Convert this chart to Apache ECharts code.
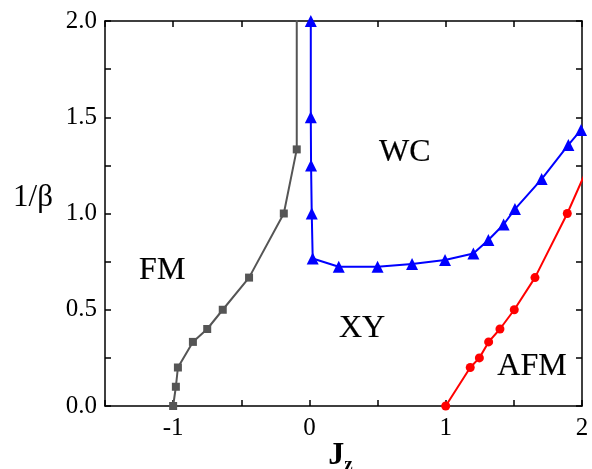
<!DOCTYPE html>
<html>
<head>
<meta charset="utf-8">
<script src="https://cdn.jsdelivr.net/npm/echarts@6/dist/echarts.min.js"></script>
<style>
html,body{margin:0;padding:0;background:#fff;}
#c{width:592px;height:469px;}
</style>
</head>
<body>
<div id="c"></div>
<script>
// FM boundary (gray squares)
var fmX = [-1.0, -0.98, -0.965, -0.855, -0.75, -0.636, -0.443, -0.188, -0.093, -0.093];
var fmY = [0, 0.1, 0.2, 0.333, 0.4, 0.5, 0.667, 1.0, 1.333, 2.3];
// WC boundary (blue triangles)
var wcX = [0.01, 0.01, 0.012, 0.017, 0.024, 0.215, 0.50, 0.753, 0.995, 1.203, 1.313, 1.425, 1.508, 1.704, 1.90, 1.993];
var wcY = [2.0, 1.5, 1.25, 1.0, 0.766, 0.723, 0.723, 0.738, 0.758, 0.792, 0.862, 0.943, 1.023, 1.179, 1.356, 1.434];
// AFM boundary (red circles)
var afmX = [1.0, 1.18, 1.247, 1.315, 1.398, 1.503, 1.655, 1.892, 2.1];
var afmY = [0, 0.2, 0.25, 0.333, 0.4, 0.5, 0.667, 1.0, 1.333];
// region labels
var regionNames = ['WC', 'FM', 'XY', 'AFM'];
var regionX = [0.70, -1.08, 0.386, 1.633];
var regionY = [1.314, 0.706, 0.404, 0.207];
// ticks
var xTickLabels = [-1, 0, 1, 2];
var yTickLabels = [0.0, 0.5, 1.0, 1.5, 2.0];

function zip(a, b) { return a.map(function (v, i) { return [v, b[i]]; }); }

var FONT = 'Liberation Serif';
var axisLineStyle = { show: true, onZero: false, lineStyle: { color: '#000', width: 1.5 } };
var tickStyle = { show: true, inside: true, length: 6, lineStyle: { color: '#000', width: 1.5 } };

var chart = echarts.init(document.getElementById('c'), null, { renderer: 'canvas' });
chart.setOption({
  animation: false,
  backgroundColor: '#fff',
  grid: { left: 105, right: 10, top: 21, bottom: 63, containLabel: false, outerBoundsMode: 'none' },
  xAxis: [{
    type: 'value', position: 'bottom', min: -1.5, max: 2, interval: 0.5,
    axisLine: axisLineStyle, axisTick: tickStyle, splitLine: { show: false },
    axisLabel: {
      margin: 10, color: '#000', fontFamily: FONT, fontSize: 25,
      formatter: function (v) { return xTickLabels.indexOf(v) >= 0 ? String(v) : ''; }
    },
    name: '{j|J}{z|z}', nameLocation: 'middle', nameGap: 30, nameMoveOverlap: false,
    nameTextStyle: {
      rich: {
        j: { fontFamily: FONT, fontSize: 32, fontWeight: 'bold', color: '#000' },
        z: { fontFamily: FONT, fontSize: 19, fontWeight: 'bold', color: '#000', padding: [20, 6, 0, 0] }
      }
    }
  }, {
    type: 'value', position: 'top', min: -1.5, max: 2, interval: 0.5,
    axisLine: axisLineStyle, axisTick: tickStyle, axisLabel: { show: false }, splitLine: { show: false }
  }],
  yAxis: [{
    type: 'value', position: 'left', min: 0, max: 2, interval: 0.25,
    axisLine: axisLineStyle, axisTick: tickStyle, splitLine: { show: false },
    axisLabel: {
      margin: 8, color: '#000', fontFamily: FONT, fontSize: 25,
      formatter: function (v) {
        for (var i = 0; i < yTickLabels.length; i++) { if (Math.abs(yTickLabels[i] - v) < 1e-9) return v.toFixed(1); }
        return '';
      }
    },
    name: '1/β', nameLocation: 'middle', nameRotate: 0, nameGap: 52, nameMoveOverlap: false,
    nameTextStyle: { fontFamily: FONT, fontSize: 31, color: '#000', verticalAlign: 'bottom' }
  }, {
    type: 'value', position: 'right', min: 0, max: 2, interval: 0.25,
    axisLine: axisLineStyle, axisTick: tickStyle, axisLabel: { show: false }, splitLine: { show: false }
  }],
  series: [{
    type: 'line', name: 'FM', data: zip(fmX, fmY), clip: true,
    symbol: 'rect', symbolSize: 8, showAllSymbol: true,
    lineStyle: { color: '#555555', width: 2 }, itemStyle: { color: '#555555' }
  }, {
    type: 'line', name: 'WC', data: zip(wcX, wcY), clip: true,
    symbol: 'triangle', symbolSize: 12, showAllSymbol: true,
    lineStyle: { color: '#0000ff', width: 2 }, itemStyle: { color: '#0000ff' }
  }, {
    type: 'line', name: 'AFM', data: zip(afmX, afmY), clip: true,
    symbol: 'circle', symbolSize: 9, showAllSymbol: true,
    lineStyle: { color: '#ff0000', width: 2 }, itemStyle: { color: '#ff0000' }
  }, {
    type: 'scatter', name: 'regions', symbolSize: 0, silent: true,
    data: regionNames.map(function (n, i) { return { name: n, value: [regionX[i], regionY[i]] }; }),
    label: {
      show: true, position: 'inside', formatter: '{b}',
      fontFamily: FONT, fontSize: 32, color: '#000', opacity: 1,
      textBorderColor: '#000', textBorderWidth: 0.2
    }
  }]
});
</script>
</body>
</html>
